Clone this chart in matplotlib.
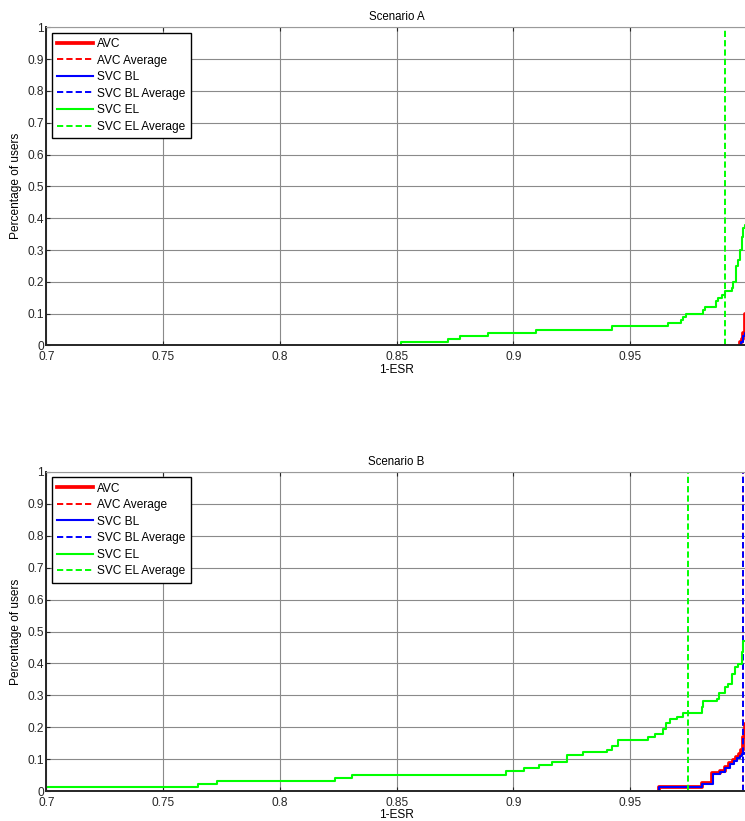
import matplotlib
matplotlib.use("Agg")
import matplotlib.pyplot as plt
import numpy as np

plt.rcParams['font.family'] = ['Liberation Sans', 'DejaVu Sans']
plt.rcParams['font.size'] = 8.6

# ---- Scenario A (step points: x where the step happens, level after it) ----
a_avc_x = [0.9972, 0.9978, 0.9985, 0.9992, 1.0]
a_avc_y = [0.01, 0.02, 0.04, 0.10, 1.0]
a_bl_x = [0.9976, 0.9985, 0.9993, 1.0]
a_bl_y = [0.01, 0.03, 0.04, 1.0]
a_el_x = [0.852, 0.872, 0.877, 0.889, 0.9096, 0.9424, 0.9662, 0.9718, 0.9728,
          0.974, 0.9811, 0.982, 0.9868, 0.9878, 0.9893, 0.9907, 0.9935, 0.9942,
          0.9954, 0.9964, 0.9972, 0.9978, 0.9985, 0.9992, 1.0]
a_el_y = [0.01, 0.02, 0.03, 0.04, 0.05, 0.06, 0.07, 0.08, 0.09,
          0.10, 0.11, 0.12, 0.14, 0.15, 0.16, 0.17, 0.18, 0.20,
          0.25, 0.27, 0.30, 0.34, 0.37, 0.38, 1.0]
a_avg = {'AVC': 0.9998, 'SVC BL': 0.9998, 'SVC EL': 0.9907}

# ---- Scenario B ----
b_avc_x = [0.9624, 0.9807, 0.9853, 0.9884, 0.9907, 0.9925, 0.9943, 0.9955,
           0.9969, 0.9976, 0.9985, 0.9992, 1.0]
b_avc_y = [0.014, 0.026, 0.056, 0.063, 0.076, 0.087, 0.097, 0.107,
           0.117, 0.13, 0.17, 0.21, 1.0]
b_bl_x = [0.9626, 0.9809, 0.9855, 0.9886, 0.9909, 0.9927, 0.9945, 0.9957,
          0.9971, 0.9978, 0.9988, 1.0]
b_bl_y = [0.013, 0.024, 0.053, 0.060, 0.073, 0.084, 0.094, 0.103,
          0.110, 0.115, 0.12, 1.0]
b_el_x = [0.69, 0.765, 0.7732, 0.8236, 0.8307, 0.8967, 0.9045, 0.911, 0.9167,
          0.9232, 0.9299, 0.9401, 0.9421, 0.945, 0.9579, 0.9607, 0.9643, 0.9655,
          0.9671, 0.9703, 0.9726, 0.9807, 0.9814, 0.9871, 0.9883, 0.9907, 0.9919,
          0.9936, 0.995, 0.9964, 0.9979, 0.9986, 1.0]
b_el_y = [0.0125, 0.021, 0.032, 0.041, 0.052, 0.062, 0.072, 0.082, 0.092,
          0.112, 0.122, 0.13, 0.14, 0.16, 0.17, 0.18, 0.196, 0.212,
          0.225, 0.233, 0.246, 0.264, 0.283, 0.288, 0.309, 0.325, 0.335,
          0.367, 0.388, 0.398, 0.435, 0.47, 1.0]
b_avg = {'AVC': 0.9986, 'SVC BL': 0.9986, 'SVC EL': 0.975}

xticks = [0.7, 0.75, 0.8, 0.85, 0.9, 0.95]
xticklabels = ['0.7', '0.75', '0.8', '0.85', '0.9', '0.95']
yticks = np.round(np.arange(0, 1.01, 0.1), 1)
yticklabels = ['0'] + ['%.1f' % v for v in yticks[1:-1]] + ['1']

colors = {'AVC': '#ff0000', 'SVC BL': '#0000ff', 'SVC EL': '#00ff00'}
widths = {'AVC': 2.7, 'SVC BL': 1.5, 'SVC EL': 1.5}


def staircase(ax, xs, ys, name):
    # start from zero at the first step, then hold each level until the next step
    x = [xs[0]] + list(xs)
    y = [0.0] + list(ys)
    ax.step(x, y, where='post', color=colors[name], lw=widths[name], label=name)


def draw_panel(ax, title, curves, avgs):
    for name, (xs, ys) in curves.items():
        staircase(ax, xs, ys, name)
        ax.axvline(avgs[name], color=colors[name], lw=1.4, ls=(0, (3.2, 1.6)),
                   label=name + ' Average')

    ax.set_xlim(0.7, 1.0)
    ax.set_ylim(0, 1)
    ax.set_xticks(xticks)
    ax.set_xticklabels(xticklabels)
    ax.set_yticks(yticks)
    ax.set_yticklabels(yticklabels)
    ax.grid(True, color='#8a8a8a', lw=0.8)
    ax.set_axisbelow(True)
    ax.tick_params(direction='in', length=3, width=0.8, top=True,
                   labelsize=8.6, colors='#262626')
    ax.tick_params(axis='x', pad=4)
    ax.tick_params(axis='y', pad=2)
    for side in ['left', 'bottom']:
        ax.spines[side].set_color('#262626')
        ax.spines[side].set_linewidth(1.4)
    ax.spines['top'].set_color('#9a9a9a')
    ax.spines['right'].set_visible(False)

    ax.set_title(title, fontsize=8.3, pad=5)
    ax.set_xlabel('1-ESR', fontsize=8.6, labelpad=0.5)
    ax.set_ylabel('Percentage of users', fontsize=8.6, labelpad=4)

    h, l = ax.get_legend_handles_labels()
    leg = ax.legend(h, l, loc='upper left', fontsize=8.6, frameon=True,
                    fancybox=False, borderaxespad=0.45, handlelength=3.0,
                    handletextpad=0.35, labelspacing=0.38, borderpad=0.45)
    leg.get_frame().set_edgecolor('black')
    leg.get_frame().set_linewidth(1.0)
    leg.get_frame().set_alpha(1)


fig = plt.figure(figsize=(7.45, 8.21), dpi=100)
ax_a = fig.add_axes([0.0624, 0.5792, 0.9399, 0.3876])
ax_b = fig.add_axes([0.0624, 0.0363, 0.9399, 0.3890])

draw_panel(ax_a, 'Scenario A',
           {'AVC': (a_avc_x, a_avc_y), 'SVC BL': (a_bl_x, a_bl_y), 'SVC EL': (a_el_x, a_el_y)},
           a_avg)
draw_panel(ax_b, 'Scenario B',
           {'AVC': (b_avc_x, b_avc_y), 'SVC BL': (b_bl_x, b_bl_y), 'SVC EL': (b_el_x, b_el_y)},
           b_avg)

fig.savefig('out.png', dpi=100)
